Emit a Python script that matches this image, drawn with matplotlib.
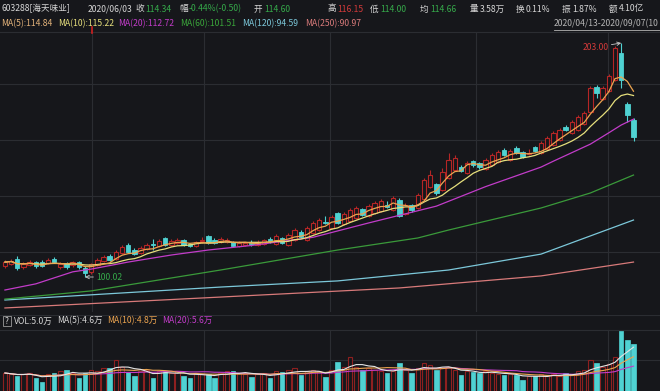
import numpy as np
import pandas as pd
import matplotlib
matplotlib.use('Agg')
import matplotlib.pyplot as plt
from matplotlib.lines import Line2D
from matplotlib.patches import Rectangle

plt.rcParams['font.family'] = ['Noto Sans CJK SC', 'DejaVu Sans']

# Daily candles 603288, 2020/04/13 - 2020/09/07
opens = [104.9, 105.7, 107.9, 104.4, 105.3, 106.6, 106.6, 106.2, 107.9, 104.4,
         106.2, 105.3, 106.6, 104.0, 102.2, 105.3, 107.1, 109.3, 107.9, 110.6,
         114.1, 111.9, 110.6, 112.3, 114.5, 113.7, 117.2, 114.1, 115.0, 116.3,
         114.5, 113.7, 115.9, 118.1, 116.3, 115.4, 115.4, 115.4, 113.7, 114.1,
         115.0, 114.1, 114.5, 116.7, 114.5, 117.2, 114.1, 116.3, 119.8, 116.3,
         119.4, 120.7, 124.2, 121.6, 128.2, 123.3, 124.7, 126.0, 129.9, 126.9,
         128.2, 129.1, 131.7, 129.5, 133.9, 127.8, 131.7, 130.4, 134.3, 139.6,
         141.0, 138.3, 143.6, 147.1, 148.4, 145.8, 151.1, 150.2, 147.5, 149.3,
         150.6, 155.9, 151.5, 156.8, 155.0, 154.2, 157.2, 154.6, 156.4, 158.1,
         160.3, 166.0, 163.4, 164.7, 167.3, 172.6, 183.6, 178.4, 181.9, 186.7,
         198.6, 176.2, 169.1]
closes = [106.6, 107.1, 104.0, 105.7, 106.6, 104.9, 104.9, 107.5, 106.6, 105.7,
          104.4, 106.6, 104.4, 101.8, 105.7, 107.5, 108.8, 107.5, 111.0, 113.2,
          111.0, 110.1, 112.8, 114.1, 114.1, 115.9, 114.1, 115.9, 116.3, 114.1,
          113.7, 115.4, 116.3, 115.0, 115.0, 116.7, 116.3, 113.7, 115.0, 115.0,
          114.5, 115.4, 116.3, 115.9, 118.1, 115.0, 118.5, 120.7, 117.6, 121.6,
          123.8, 125.1, 123.8, 126.4, 123.8, 127.8, 129.5, 130.4, 127.3, 131.3,
          132.6, 133.5, 130.8, 134.8, 126.9, 131.7, 129.5, 136.1, 142.7, 144.9,
          137.0, 146.2, 151.5, 152.4, 146.7, 150.2, 149.3, 148.4, 151.5, 153.7,
          155.0, 153.7, 155.5, 154.6, 152.8, 154.6, 155.5, 159.0, 161.2, 163.4,
          164.7, 164.7, 168.2, 170.4, 172.2, 183.2, 181.0, 183.2, 188.5, 200.8,
          186.7, 171.3, 161.6]
highs = [107.5, 107.9, 109.3, 106.6, 107.5, 107.1, 107.5, 108.4, 108.8, 106.6,
         106.6, 107.1, 107.1, 104.9, 106.2, 108.4, 109.7, 110.1, 111.9, 114.1,
         115.0, 112.8, 113.7, 115.0, 116.7, 116.7, 117.6, 116.7, 117.2, 116.7,
         115.0, 115.9, 117.6, 118.5, 117.2, 117.6, 117.2, 115.9, 115.9, 115.4,
         116.3, 116.3, 116.7, 117.6, 119.0, 117.6, 119.4, 121.6, 120.7, 122.5,
         124.7, 126.0, 126.9, 127.3, 128.6, 128.6, 130.4, 131.3, 130.4, 132.2,
         133.5, 134.3, 133.5, 135.7, 134.8, 132.6, 132.2, 137.0, 143.6, 147.1,
         141.4, 148.0, 154.6, 153.7, 149.3, 151.1, 151.5, 150.6, 152.4, 154.6,
         155.9, 156.8, 156.4, 157.7, 155.5, 156.4, 157.7, 159.9, 162.1, 164.3,
         165.6, 166.9, 169.1, 171.3, 173.1, 184.1, 184.5, 184.1, 189.4, 201.7,
         203.0, 177.0, 170.0]
lows = [104.0, 105.3, 103.1, 103.6, 104.9, 104.0, 104.4, 105.7, 106.2, 103.6,
        103.6, 104.4, 103.6, 100.02, 101.3, 104.9, 106.6, 107.1, 107.5, 110.1,
        110.6, 109.7, 110.1, 111.9, 111.9, 113.2, 113.7, 113.7, 114.5, 113.7,
        113.2, 113.2, 115.0, 114.5, 114.5, 115.0, 115.0, 113.2, 113.2, 113.7,
        113.7, 113.7, 114.1, 115.0, 114.1, 114.5, 113.7, 115.9, 117.2, 115.9,
        119.0, 120.3, 123.3, 121.1, 123.3, 122.9, 124.2, 125.6, 126.9, 126.4,
        127.8, 128.6, 130.4, 129.1, 126.4, 127.3, 128.6, 129.9, 133.9, 139.2,
        136.1, 137.9, 143.2, 146.7, 146.2, 145.3, 148.4, 147.5, 147.1, 148.9,
        150.2, 153.2, 151.1, 154.2, 152.4, 153.7, 155.0, 154.2, 156.0, 157.7,
        159.9, 164.3, 163.0, 164.3, 166.9, 172.2, 178.8, 178.0, 181.5, 186.3,
        183.2, 168.2, 159.9]
# volume, 万手
volumes = [6.0, 5.5, 5.0, 5.5, 6.0, 4.3, 3.0, 5.5, 6.0, 6.5,
           7.0, 6.0, 4.3, 6.0, 7.0, 6.5, 7.5, 7.7, 10.3, 8.0,
           6.3, 5.0, 6.5, 7.0, 4.3, 6.5, 6.3, 6.0, 6.5, 5.0,
           4.3, 6.0, 5.5, 5.7, 4.3, 6.0, 6.5, 6.7, 6.0, 5.5,
           4.7, 5.5, 6.0, 4.3, 6.5, 6.3, 7.0, 7.5, 5.3, 6.5,
           7.0, 6.5, 4.7, 7.0, 9.7, 8.0, 11.3, 8.0, 7.0, 7.5,
           7.0, 6.5, 6.0, 6.5, 9.3, 7.0, 6.0, 7.5, 9.3, 8.5,
           7.0, 7.5, 8.0, 7.0, 5.3, 6.5, 6.3, 6.0, 6.5, 6.0,
           5.5, 5.3, 5.5, 5.3, 3.7, 5.0, 5.0, 5.5, 5.0, 5.5,
           5.0, 6.0, 5.5, 6.5, 7.0, 10.3, 9.3, 8.0, 9.0, 11.3,
           20.0, 17.0, 15.7]

# long moving averages read at a few candles
ma20_idx = [0, 5, 11, 14, 20, 27, 33, 40, 50, 59, 70, 78, 87, 89, 95, 98, 100, 102]
ma20_val = [94.3, 97.0, 102.3, 103.5, 106.6, 109.7, 111.9, 113.9, 117.5, 123.8,
            131.2, 139.8, 148.4, 151.0, 158.5, 163.5, 166.9, 169.5]
ma60_idx = [0, 14, 35, 54, 67, 72, 87, 95, 102]
ma60_val = [90.3, 93.9, 103.1, 111.9, 117.2, 120.7, 130.4, 137.0, 144.9]
ma120_idx = [0, 35, 54, 72, 87, 102]
ma120_val = [89.9, 95.6, 98.3, 103.1, 110.1, 125.1]
ma250_idx = [0, 35, 64, 87, 102]
ma250_val = [86.4, 91.2, 95.2, 100.5, 106.6]

df = pd.DataFrame({'open': opens, 'close': closes, 'high': highs, 'low': lows, 'vol': volumes})
df['ma5'] = df['close'].rolling(5, min_periods=1).mean()
df['ma10'] = df['close'].rolling(10, min_periods=1).mean()
df['vma5'] = df['vol'].rolling(5, min_periods=1).mean()
df['vma10'] = df['vol'].rolling(10, min_periods=1).mean()
df['vma20'] = df['vol'].rolling(20, min_periods=1).mean()

BG = '#16171b'
GRID = '#2b2d32'
RED = '#b52626'
CYAN = '#4fd2d2'
C_MA5 = '#eba450'
C_MA10 = '#e6df7c'
C_MA20 = '#c23cc9'
C_MA60 = '#3a9a3a'
C_MA120 = '#7cc8da'
C_MA250 = '#d87a7a'
GREEN_T = '#35a94a'
RED_T = '#d23a3a'
WHITE_T = '#d6d6d6'
FS = 6.2

W, H = 660, 391
fig = plt.figure(figsize=(6.6, 3.91), dpi=100)
fig.patch.set_facecolor(BG)

x = np.arange(len(df))
xlim = (-0.8, 106.3)
bw = 0.72

# price panel
ax = fig.add_axes([0, (H - 312) / H, 1, 280 / H])
ax.set_facecolor(BG)
ax.set_xlim(*xlim)
ax.set_ylim(84.62, 207.85)
for s in ax.spines.values():
    s.set_visible(False)
ax.set_xticks([])
ax.set_yticks([])
for yy in [84, 140, 196, 252]:
    ax.plot([0, 1], [(312 - yy) / 280] * 2, color=GRID, lw=0.8, zorder=0, transform=ax.transAxes)
for xx in [92, 204, 330, 476, 608]:
    ax.plot([xx / W] * 2, [0, 1], color=GRID, lw=0.8, zorder=0, transform=ax.transAxes)

up = df['close'] >= df['open']
ax.vlines(x[up], df['low'][up], df['high'][up], color=RED, lw=0.8, zorder=2)
ax.vlines(x[~up], df['low'][~up], df['high'][~up], color=CYAN, lw=0.8, zorder=2)
body = (df['close'] - df['open']).abs().clip(lower=0.25)
bottom = df[['open', 'close']].min(axis=1)
ax.bar(x[up], body[up], bottom=bottom[up], width=bw, facecolor=BG,
       edgecolor=RED, lw=0.8, zorder=3)
ax.bar(x[~up], body[~up], bottom=bottom[~up], width=bw, facecolor=CYAN,
       edgecolor=CYAN, lw=0.6, zorder=3)

ax.plot(ma250_idx, ma250_val, color=C_MA250, lw=0.9, zorder=4)
ax.plot(ma120_idx, ma120_val, color=C_MA120, lw=0.9, zorder=4)
ax.plot(ma60_idx, ma60_val, color=C_MA60, lw=0.9, zorder=4)
ax.plot(ma20_idx, ma20_val, color=C_MA20, lw=0.9, zorder=4)
ax.plot(x, df['ma10'], color=C_MA10, lw=0.9, zorder=4)
ax.plot(x, df['ma5'], color=C_MA5, lw=0.9, zorder=4)

hi = int(df['high'].idxmax())
lo = int(df['low'].idxmin())
ax.annotate(f"{df['high'][hi]:.2f}", xy=(hi, df['high'][hi]), xytext=(-9, -3),
            textcoords='offset points', ha='right', va='center', fontsize=FS,
            color=RED_T, arrowprops=dict(arrowstyle='->', color='#c8c8c8', lw=0.6,
                                         shrinkA=0, shrinkB=0))
ax.annotate(f"{df['low'][lo]:.2f}", xy=(lo, df['low'][lo]), xytext=(8, 0),
            textcoords='offset points', ha='left', va='center', fontsize=FS,
            color=GREEN_T, arrowprops=dict(arrowstyle='->', color='#c8c8c8', lw=0.6,
                                           shrinkA=0, shrinkB=0))

# volume panel
axv = fig.add_axes([0, 0, 1, (H - 315) / H])
axv.set_facecolor(BG)
axv.set_xlim(*xlim)
axv.set_ylim(0, 25.33)
for s in axv.spines.values():
    s.set_visible(False)
axv.set_xticks([])
axv.set_yticks([])
for yy in [315, 330, 360]:
    axv.plot([0, 1], [(391 - yy) / 76] * 2, color=GRID, lw=0.8, zorder=0, transform=axv.transAxes)
for xx in [92, 204, 330, 476, 608]:
    axv.plot([xx / W] * 2, [0, (391 - 330) / 76], color=GRID, lw=0.8, zorder=0, transform=axv.transAxes)
axv.bar(x[up], df['vol'][up], width=bw, facecolor=BG, edgecolor='#8e2020', lw=0.8, zorder=2)
axv.bar(x[~up], df['vol'][~up], width=bw, facecolor=CYAN, edgecolor=CYAN, lw=0.5, zorder=2)
axv.plot(x, df['vma20'], color=C_MA20, lw=0.8, zorder=3)
axv.plot(x, df['vma10'], color=C_MA5, lw=0.8, zorder=3)
axv.plot(x, df['vma5'], color='#e4e4e4', lw=0.8, zorder=3)

# header texts
def put(xp, yp, s, c, size=FS):
    return fig.text(xp / W, 1 - yp / H, s, color=c, fontsize=size, ha='left', va='center')

row1 = [(2, '603288[海天味业]', WHITE_T), (88, '2020/06/03', WHITE_T),
        (135, '收', WHITE_T), (145, '114.34', GREEN_T),
        (179, '幅', WHITE_T), (189, '-0.44%(-0.50)', GREEN_T),
        (254, '开', WHITE_T), (264, '114.60', GREEN_T),
        (327, '高', WHITE_T), (337, '116.15', RED_T),
        (370, '低', WHITE_T), (380, '114.00', GREEN_T),
        (420, '均', WHITE_T), (430, '114.66', GREEN_T),
        (470, '量', WHITE_T), (480, '3.58万', WHITE_T),
        (516, '换', WHITE_T), (526, '0.11%', WHITE_T),
        (562, '振', WHITE_T), (572, '1.87%', WHITE_T),
        (609, '额', WHITE_T), (619, '4.10亿', WHITE_T)]
for xp, s, c in row1:
    put(xp, 9, s, c)

row2 = [(1, 'MA(5):114.84', '#e2b27a'), (58, 'MA(10):115.22', C_MA10),
        (118, 'MA(20):112.72', C_MA20), (180, 'MA(60):101.51', '#3aa53a'),
        (242, 'MA(120):94.59', C_MA120), (305, 'MA(250):90.97', C_MA250)]
for xp, s, c in row2:
    put(xp, 24, s, c)
put(554, 24, '2020/04/13-2020/09/07(10', '#b4b4b4')
fig.add_artist(Line2D([554 / W, 1], [1 - 30 / H] * 2, color='#b4b4b4', lw=0.6))

# top border and cursor mark
fig.add_artist(Line2D([0, 1], [1 - 32 / H] * 2, color=GRID, lw=0.8))
fig.add_artist(Line2D([92 / W] * 2, [1 - 27 / H, 1 - 33 / H], color='#d02020', lw=1.2))

# volume header
fig.add_artist(Rectangle((3 / W, 1 - 326 / H), 8 / W, 10 / H, fill=False,
                         edgecolor='#9a9a9a', lw=0.6))
put(4.5, 321, '?', WHITE_T, 6)
put(14, 321, 'VOL:5.0万', WHITE_T)
put(57, 321, 'MA(5):4.6万', WHITE_T)
put(107, 321, 'MA(10):4.8万', C_MA5)
put(162, 321, 'MA(20):5.6万', C_MA20)

fig.savefig('out.png', dpi=100, facecolor=BG)
plt.close(fig)
